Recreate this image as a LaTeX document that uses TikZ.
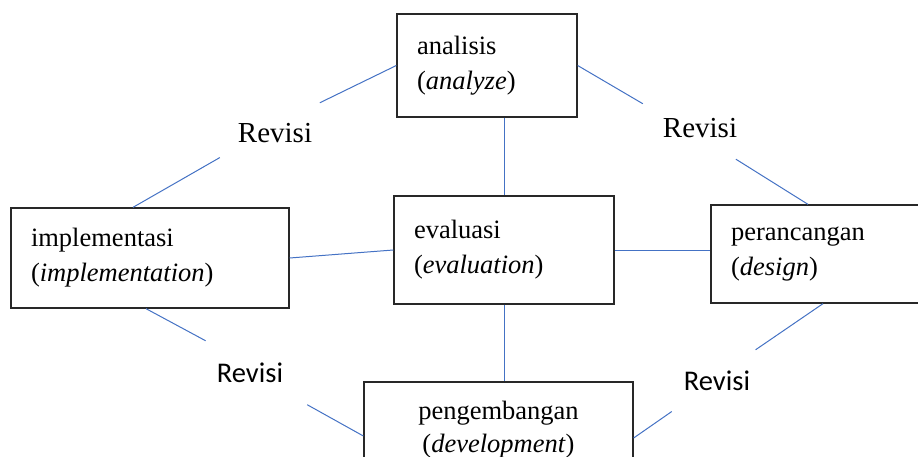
\documentclass[tikz,border=0pt]{standalone}
\usepackage{fontspec}
\setmainfont{Liberation Serif}
\newfontfamily\carlitofont{Carlito}
\usepackage{tikz}
\usetikzlibrary{positioning}

\begin{document}
\begin{tikzpicture}[x=1pt, y=-1pt]

% Warna.
\definecolor{cLink}{RGB}{68,114,196}
\definecolor{cEdge}{RGB}{40,40,40}

% Gaya.
\tikzset{
  box/.style={rectangle, draw=cEdge, line width=1.3pt, inner xsep=20pt, inner ysep=0pt,
              align=left, font=\fontsize{26.5}{35}\selectfont},
  link/.style={draw=cLink, line width=1pt},
  revA/.style={inner sep=0pt, font=\fontsize{29}{29}\selectfont},
  revB/.style={inner sep=0pt, font=\carlitofont\fontsize{28.5}{28.5}\selectfont}
}

\clip (0,0) rectangle (918,457);

% Kotak tahapan.
\node (ana) [box, text width=140pt, minimum height=103pt] at (487,65.5) {analisis\\(\textit{analyze})};
\node (imp) [box, text width=238pt, minimum height=100pt] at (150,258) {implementasi\\(\textit{implementation})};
\node (eva) [box, text width=180pt, minimum height=108pt] at (504,250) {evaluasi\\(\textit{evaluation})};
\node (per) [box, text width=184pt, minimum height=98pt]  at (823,254) {perancangan\\(\textit{design})};
\node (pen) [box, align=center, text width=229pt, minimum height=96pt, font=\fontsize{26.5}{33}\selectfont] at (498.5,430) {pengembangan\\(\textit{development})};

% Label revisi.
\node (revTL) [revA, minimum width=110pt, minimum height=60pt] at (275,133) {Revisi};
\node (revTR) [revA, minimum width=114pt, minimum height=62pt] at (700,128) {Revisi};
\node (revBL) [revB, minimum width=114pt, minimum height=64pt] at (250,373) {Revisi};
\node (revBR) [revB, minimum width=90pt,  minimum height=62pt] at (717,381) {Revisi};

% Garis ke evaluasi.
\draw[link] (ana.south -| eva.north) -- (eva.north);
\draw[link] (imp.east) -- (eva.west);
\draw[link] (eva.east) -- (eva.east -| per.west);
\draw[link] (eva.south) -- (eva.south |- pen.north);

% Garis revisi.
\draw[link] (ana.west) -- (revTL.34);
\draw[link] (revTL.204) -- ([xshift=-17pt]imp.north);
\draw[link] (ana.east) -- (revTR.157);
\draw[link] (revTR.-41.5) -- ([xshift=-15pt]per.north);
\draw[link] ([xshift=-4pt]imp.south) -- (revBL.144.5);
\draw[link] (revBL.-29.3) -- ([yshift=-6pt]pen.west);
\draw[link] (per.south) -- (revBR.39.2);
\draw[link] (revBR.214.6) -- ([yshift=-8pt]pen.east);
\end{tikzpicture}
\end{document}
